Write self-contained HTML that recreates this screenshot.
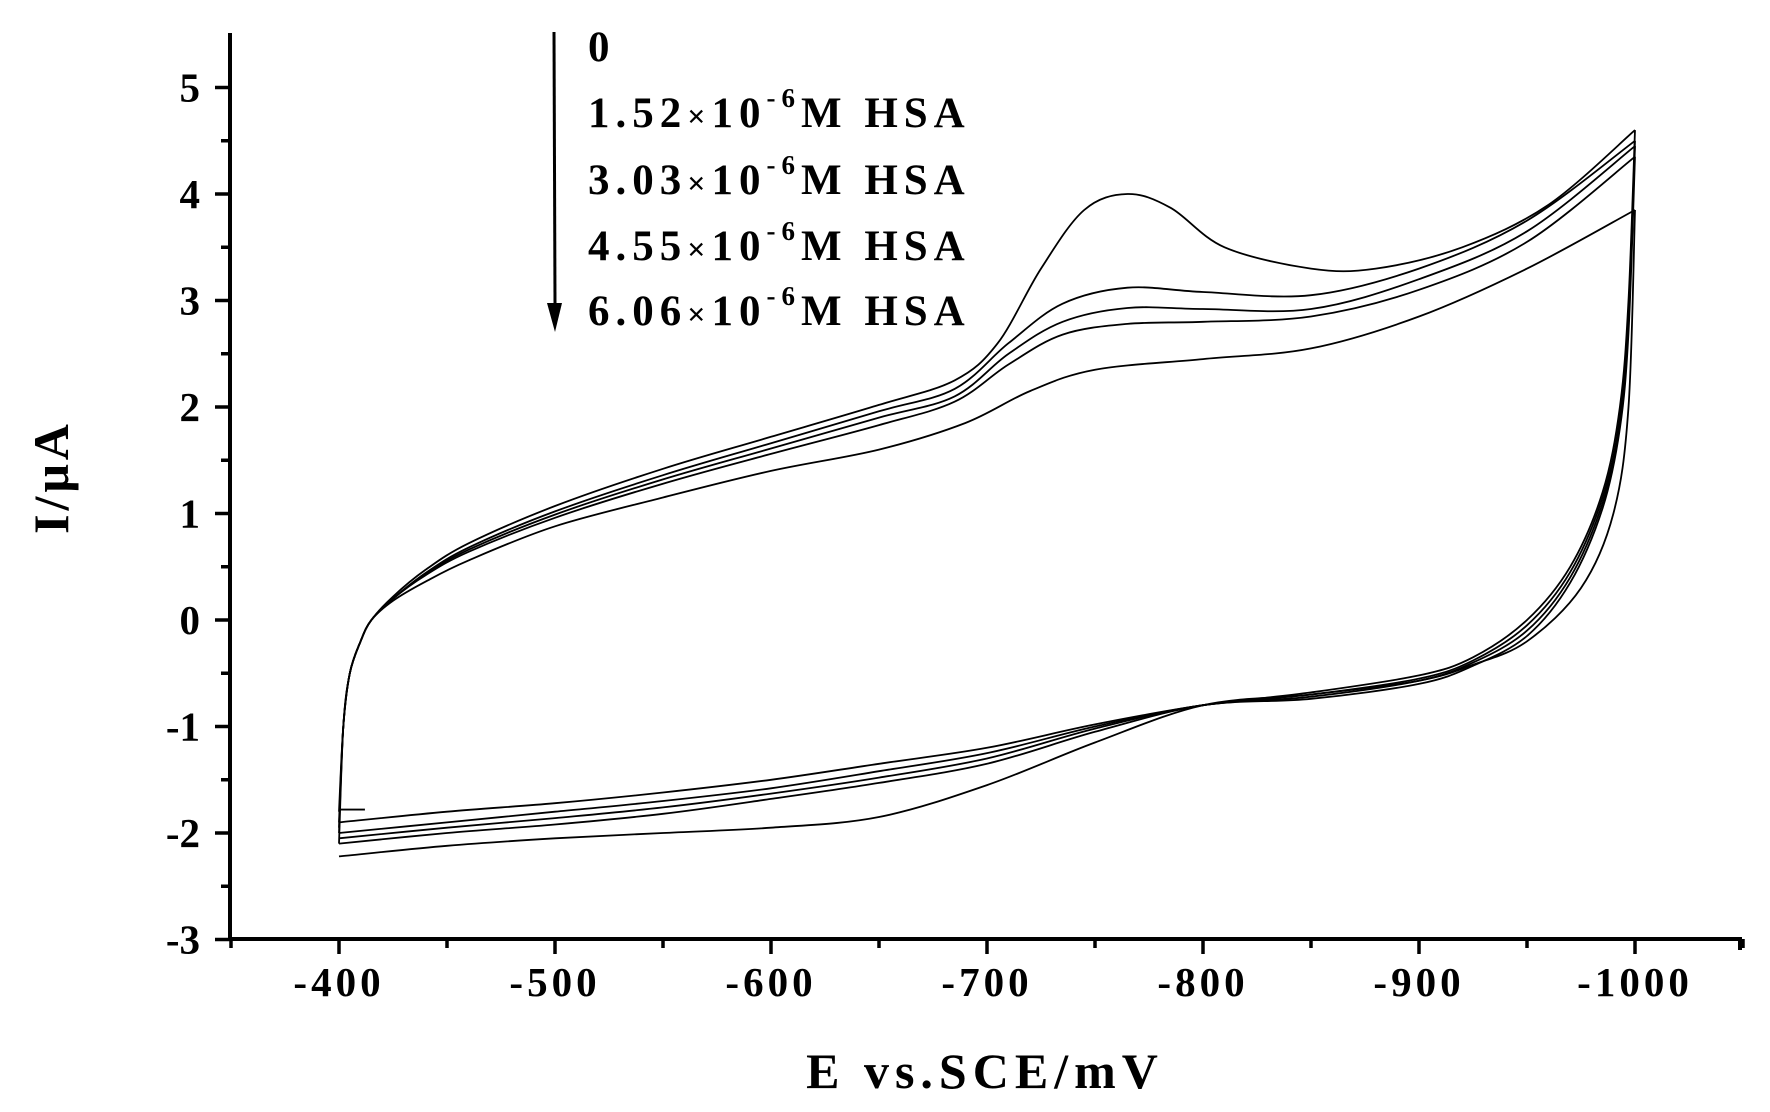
<!DOCTYPE html>
<html><head><meta charset="utf-8"><style>
body{margin:0;background:#fff}
svg{display:block}
text{font-family:"Liberation Serif",serif;font-weight:bold;fill:#000}
</style></head><body>
<svg id="s" width="1770" height="1112" viewBox="0 0 1770 1112" xmlns="http://www.w3.org/2000/svg">
<g stroke="#000" stroke-width="4" fill="none">
<line x1="230" y1="33" x2="230" y2="941"/>
<line x1="228" y1="939" x2="1742" y2="939"/>
<line x1="1740" y1="939" x2="1740" y2="950"/>
</g>
<g id="ticks" stroke="#000" stroke-width="3.5"></g>
<g font-size="41" text-anchor="end" id="ylab"></g>
<g font-size="41" text-anchor="middle" letter-spacing="4" id="xlab"></g>
<text x="985" y="1088" font-size="50" text-anchor="middle" letter-spacing="6">E vs.SCE/mV</text>
<text transform="translate(68,477) rotate(-90)" font-size="50" text-anchor="middle" letter-spacing="4">I/μA</text>
<line x1="554" y1="32" x2="555" y2="305" stroke="#000" stroke-width="3"/>
<polygon points="547,303 562,303 555,332" fill="#000"/>
<g font-size="43" letter-spacing="6">
<text x="588" y="61">0</text>
<text x="588" y="127">1.52<tspan font-size="32">×</tspan>10<tspan font-size="27" dy="-20">-6</tspan><tspan dy="20">M HSA</tspan></text>
<text x="588" y="194">3.03<tspan font-size="32">×</tspan>10<tspan font-size="27" dy="-20">-6</tspan><tspan dy="20">M HSA</tspan></text>
<text x="588" y="260">4.55<tspan font-size="32">×</tspan>10<tspan font-size="27" dy="-20">-6</tspan><tspan dy="20">M HSA</tspan></text>
<text x="588" y="325">6.06<tspan font-size="32">×</tspan>10<tspan font-size="27" dy="-20">-6</tspan><tspan dy="20">M HSA</tspan></text>
</g>
<g id="curves" stroke="#000" stroke-width="1.8" fill="none"></g>
</svg>
<script>
var NS="http://www.w3.org/2000/svg";
function X(e){return 339+(e-400)*2.16}
function Y(i){return 620-i*106.5}
var t=document.getElementById("ticks"),yl=document.getElementById("ylab"),xl=document.getElementById("xlab");
function el(p,tag,a,txt){var n=document.createElementNS(NS,tag);for(var k in a)n.setAttribute(k,a[k]);if(txt!=null)n.textContent=txt;p.appendChild(n);return n}
for(var v=-3;v<=5;v+=0.5){var y=Y(v),maj=(v%1===0);el(t,"line",{x1:maj?215:221,y1:y,x2:230,y2:y});if(maj)el(yl,"text",{x:200,y:y+14},String(v));}
for(var e=350;e<=1050;e+=50){var x=X(e),maj=(e%100===0);el(t,"line",{x1:x,y1:939,x2:x,y2:maj?954:948});if(maj)el(xl,"text",{x:x,y:996},"-"+e);}
var up=[
[[400,-1.8],[402,-1.0],[405,-0.5],[410,-0.2],[415,0],[425,0.22],[440,0.47],[460,0.72],[500,1.07],[550,1.42],[600,1.72],[650,2.02],[685,2.25],[705,2.6],[725,3.3],[745,3.85],[765,4.0],[785,3.87],[810,3.5],[850,3.3],[880,3.3],[920,3.5],[960,3.9],[1000,4.6]],
[[400,-1.9],[402,-1.0],[405,-0.5],[410,-0.2],[415,0],[425,0.2],[440,0.44],[460,0.68],[500,1.02],[550,1.36],[600,1.66],[650,1.96],[685,2.17],[710,2.6],[735,2.97],[765,3.12],[800,3.08],[850,3.05],[900,3.3],[950,3.75],[1000,4.5]],
[[400,-1.95],[402,-1.0],[405,-0.5],[410,-0.2],[415,0],[425,0.2],[440,0.43],[460,0.66],[500,0.99],[550,1.32],[600,1.61],[650,1.9],[685,2.1],[710,2.5],[735,2.8],[765,2.93],[800,2.92],[850,2.92],[900,3.2],[950,3.65],[1000,4.45]],
[[400,-2.0],[402,-1.0],[405,-0.5],[410,-0.2],[415,0],[425,0.2],[440,0.42],[460,0.64],[500,0.96],[550,1.28],[600,1.56],[650,1.83],[685,2.05],[710,2.4],[735,2.68],[765,2.78],[800,2.8],[850,2.85],[900,3.1],[950,3.55],[1000,4.35]],
[[400,-2.1],[402,-1.0],[405,-0.5],[410,-0.2],[415,0],[425,0.18],[440,0.36],[460,0.56],[500,0.88],[550,1.15],[600,1.4],[650,1.6],[690,1.85],[720,2.15],[750,2.35],[800,2.45],[850,2.55],[900,2.85],[950,3.3],[1000,3.85]]
];
var dn=[
[[1000,4.6],[997,3.0],[993,2.0],[985,1.2],[970,0.5],[950,0.0],[925,-0.35],[900,-0.52],[850,-0.68],[800,-0.8],[750,-0.98],[700,-1.2],[650,-1.35],[600,-1.5],[550,-1.62],[500,-1.72],[450,-1.8],[400,-1.9]],
[[1000,4.5],[997,2.9],[993,1.9],[985,1.15],[970,0.45],[950,-0.05],[925,-0.38],[900,-0.55],[850,-0.7],[800,-0.8],[750,-1.0],[700,-1.25],[650,-1.42],[600,-1.58],[550,-1.7],[500,-1.8],[450,-1.9],[400,-2.0]],
[[1000,4.45],[997,2.8],[993,1.85],[985,1.1],[970,0.4],[950,-0.1],[925,-0.4],[900,-0.57],[850,-0.72],[800,-0.8],[750,-1.02],[700,-1.3],[650,-1.48],[600,-1.63],[550,-1.76],[500,-1.86],[450,-1.95],[400,-2.05]],
[[1000,4.35],[997,2.7],[993,1.8],[985,1.05],[970,0.35],[950,-0.15],[925,-0.43],[900,-0.6],[850,-0.74],[800,-0.8],[750,-1.05],[700,-1.35],[650,-1.53],[600,-1.68],[550,-1.82],[500,-1.92],[450,-2.0],[400,-2.1]],
[[1000,3.85],[997,2.0],[990,1.0],[975,0.3],[950,-0.2],[925,-0.42],[900,-0.57],[850,-0.7],[800,-0.8],[750,-1.15],[700,-1.55],[650,-1.85],[600,-1.95],[550,-2.0],[500,-2.05],[450,-2.12],[400,-2.22]]
];
function cr(pts){var p=pts.map(function(a){return[X(a[0]),Y(a[1])]});var d="M"+p[0][0].toFixed(1)+" "+p[0][1].toFixed(1);
for(var i=0;i<p.length-1;i++){var p0=p[i-1]||p[i],p1=p[i],p2=p[i+1],p3=p[i+2]||p2;
d+=" C"+(p1[0]+(p2[0]-p0[0])/6).toFixed(1)+" "+(p1[1]+(p2[1]-p0[1])/6).toFixed(1)+" "+(p2[0]-(p3[0]-p1[0])/6).toFixed(1)+" "+(p2[1]-(p3[1]-p1[1])/6).toFixed(1)+" "+p2[0].toFixed(1)+" "+p2[1].toFixed(1);}
return d}
var c=document.getElementById("curves");
for(var k=0;k<5;k++){el(c,"path",{d:cr(up[k])});el(c,"path",{d:cr(dn[k])});}
el(c,"line",{x1:X(400),y1:Y(-1.78),x2:X(412),y2:Y(-1.78)});
</script>
</body></html>
